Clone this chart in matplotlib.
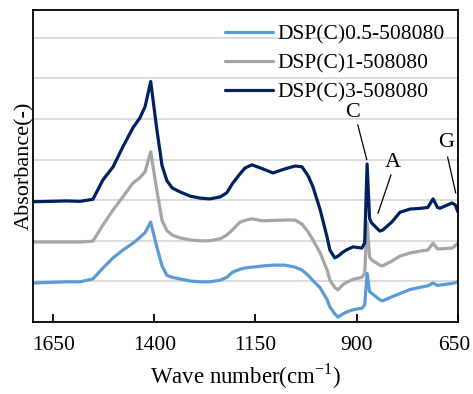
import matplotlib
matplotlib.use("Agg")
import matplotlib.pyplot as plt
import matplotlib.transforms as mtransforms

plt.rcParams["font.family"] = ["Liberation Serif", "DejaVu Serif"]

# data
WAVENUMBER = [1700, 1616, 1584, 1552, 1527, 1502, 1478, 1453, 1436, 1423,
              1409, 1394, 1381, 1369, 1356, 1336, 1312, 1287, 1263, 1237,
              1221, 1206, 1188, 1176, 1159, 1132, 1107, 1077, 1052, 1035,
              1020, 1008, 990, 973, 966, 954, 946, 934, 924, 909,
              887, 880, 874, 868, 863, 843, 836, 813, 793, 768,
              740, 724, 711, 700, 694, 664, 656, 650]

ABS_05 = [0.96, 0.99, 0.99, 1.06, 1.33, 1.58, 1.77, 1.94, 2.08, 2.20,
          2.46, 1.85, 1.38, 1.15, 1.10, 1.06, 1.01, 0.99, 0.99, 1.03,
          1.10, 1.23, 1.30, 1.33, 1.35, 1.38, 1.40, 1.40, 1.35, 1.28,
          1.15, 1.02, 0.84, 0.55, 0.37, 0.20, 0.12, 0.20, 0.25, 0.30,
          0.34, 0.42, 1.20, 0.75, 0.71, 0.55, 0.52, 0.62, 0.70, 0.80,
          0.86, 0.89, 0.96, 0.90, 0.91, 0.95, 0.97, 0.99]

ABS_1 = [1.97, 1.97, 1.97, 1.99, 2.39, 2.76, 3.08, 3.42, 3.55, 3.70,
         4.19, 3.25, 2.50, 2.25, 2.14, 2.07, 2.02, 2.00, 2.00, 2.05,
         2.14, 2.28, 2.46, 2.50, 2.54, 2.49, 2.50, 2.51, 2.51, 2.41,
         2.22, 2.02, 1.70, 1.28, 1.03, 0.85, 0.79, 0.92, 0.98, 1.05,
         1.10, 1.20, 2.46, 1.60, 1.53, 1.40, 1.38, 1.50, 1.62, 1.70,
         1.75, 1.77, 1.94, 1.80, 1.80, 1.82, 1.88, 1.94]

ABS_3 = [2.96, 2.98, 2.97, 3.02, 3.50, 3.82, 4.31, 4.78, 5.02, 5.30,
         5.92, 4.75, 3.85, 3.48, 3.30, 3.20, 3.10, 3.05, 3.03, 3.08,
         3.18, 3.42, 3.65, 3.79, 3.87, 3.77, 3.67, 3.77, 3.84, 3.82,
         3.60, 3.33, 2.76, 2.09, 1.77, 1.58, 1.62, 1.72, 1.78, 1.85,
         1.82, 1.95, 3.89, 2.55, 2.44, 2.24, 2.26, 2.46, 2.70, 2.78,
         2.80, 2.82, 3.03, 2.82, 2.80, 2.93, 2.88, 2.72]

LABELS = ["DSP(C)0.5-508080", "DSP(C)1-508080", "DSP(C)3-508080"]
COLORS = ["#5B9BD5", "#A5A5A5", "#002060"]
XTICKS = [1650, 1400, 1150, 900, 650]

# peak labels: (text, text position, line start, line end)
PEAKS = [("C", (911, 5.15), (897, 4.85), (875, 4.0)),
         ("A", (810, 3.92), (815, 3.62), (847, 2.68)),
         ("G", (678, 4.41), (675, 4.06), (655, 3.18))]

FS = 15.5

fig = plt.figure(figsize=(4.73, 3.94), dpi=100)
ax = fig.add_axes([0.0698, 0.1827, 0.8979, 0.7919])

for y, lab, col in zip([ABS_05, ABS_1, ABS_3], LABELS, COLORS):
    ax.plot(WAVENUMBER, y, color=col, lw=2.3, label=lab,
            solid_joinstyle="round", solid_capstyle="round")

for txt, tpos, p0, p1 in PEAKS:
    ax.text(tpos[0], tpos[1], txt, fontsize=FS + 0.5, ha="center", va="center")
    ax.plot([p0[0], p1[0]], [p0[1], p1[1]], color="black", lw=0.9)

ax.set_xlim(1700, 650)
ax.set_ylim(0, 7.68)
ax.set_xticks(XTICKS)
ax.set_xticklabels([str(t) for t in XTICKS], fontsize=FS)
ax.set_yticks(range(1, 8))
ax.set_yticklabels([])
ax.tick_params(axis="y", length=0)
ax.tick_params(axis="x", direction="in", length=6, width=1.3, pad=10)
ax.grid(True, axis="y", color="#D9D9D9", lw=1.3)
ax.set_axisbelow(True)
for s in ax.spines.values():
    s.set_linewidth(1.3)

# last tick label sits a little left of its tick so it stays inside the figure
last = ax.get_xticklabels()[-1]
last.set_transform(last.get_transform() +
                   mtransforms.ScaledTranslation(-3 / 100, 0, fig.dpi_scale_trans))

ax.set_xlabel("Wave number(cm$^{\\mathregular{-1}}$)", fontsize=16.5, labelpad=5)
ax.set_ylabel("Absorbance(-)", fontsize=16)
ax.yaxis.set_label_coords(0.004, 0.5)

ax.legend(loc="upper left", bbox_to_anchor=(225 / 473, 1 - 24 / 394),
          bbox_transform=fig.transFigure, frameon=False, fontsize=FS,
          handlelength=2.23, handletextpad=0.19, labelspacing=0.42,
          borderpad=0, borderaxespad=0)

fig.savefig("out.png", dpi=100)
